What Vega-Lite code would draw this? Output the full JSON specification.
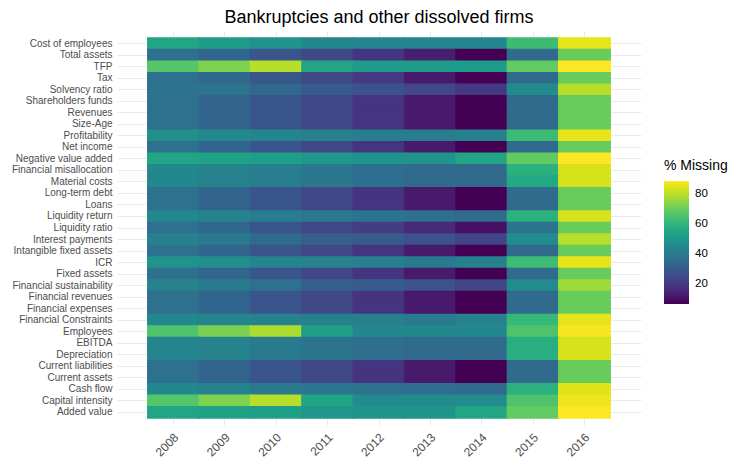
{
  "$schema": "https://vega.github.io/schema/vega-lite/v6.json",
  "autosize": {"type": "none"},
  "padding": {"left": 117, "top": 31, "right": 95, "bottom": 33},
  "width": 524,
  "height": 394,
  "title": {"text": "Bankruptcies and other dissolved firms", "fontSize": 18, "font": "Liberation Sans", "fontWeight": "normal", "color": "#000000", "anchor": "middle", "offset": 4},
  "config": {"view": {"stroke": null}, "font": "Liberation Sans"},
  "data": {"values": [
    {"variable":"Cost of employees","year":"2008","pct":55},{"variable":"Cost of employees","year":"2009","pct":52},{"variable":"Cost of employees","year":"2010","pct":49},{"variable":"Cost of employees","year":"2011","pct":45},{"variable":"Cost of employees","year":"2012","pct":44},{"variable":"Cost of employees","year":"2013","pct":44},{"variable":"Cost of employees","year":"2014","pct":44},{"variable":"Cost of employees","year":"2015","pct":63},{"variable":"Cost of employees","year":"2016","pct":86},
    {"variable":"Total assets","year":"2008","pct":37},{"variable":"Total assets","year":"2009","pct":33},{"variable":"Total assets","year":"2010","pct":28},{"variable":"Total assets","year":"2011","pct":24},{"variable":"Total assets","year":"2012","pct":19},{"variable":"Total assets","year":"2013","pct":13},{"variable":"Total assets","year":"2014","pct":6.5},{"variable":"Total assets","year":"2015","pct":35},{"variable":"Total assets","year":"2016","pct":70},
    {"variable":"TFP","year":"2008","pct":67},{"variable":"TFP","year":"2009","pct":73},{"variable":"TFP","year":"2010","pct":80},{"variable":"TFP","year":"2011","pct":55},{"variable":"TFP","year":"2012","pct":52},{"variable":"TFP","year":"2013","pct":52},{"variable":"TFP","year":"2014","pct":52},{"variable":"TFP","year":"2015","pct":69},{"variable":"TFP","year":"2016","pct":89},
    {"variable":"Tax","year":"2008","pct":37},{"variable":"Tax","year":"2009","pct":34},{"variable":"Tax","year":"2010","pct":29},{"variable":"Tax","year":"2011","pct":24},{"variable":"Tax","year":"2012","pct":20},{"variable":"Tax","year":"2013","pct":12},{"variable":"Tax","year":"2014","pct":7},{"variable":"Tax","year":"2015","pct":35},{"variable":"Tax","year":"2016","pct":70},
    {"variable":"Solvency ratio","year":"2008","pct":38},{"variable":"Solvency ratio","year":"2009","pct":38},{"variable":"Solvency ratio","year":"2010","pct":34},{"variable":"Solvency ratio","year":"2011","pct":30},{"variable":"Solvency ratio","year":"2012","pct":27},{"variable":"Solvency ratio","year":"2013","pct":24},{"variable":"Solvency ratio","year":"2014","pct":20},{"variable":"Solvency ratio","year":"2015","pct":46},{"variable":"Solvency ratio","year":"2016","pct":80},
    {"variable":"Shareholders funds","year":"2008","pct":37},{"variable":"Shareholders funds","year":"2009","pct":33},{"variable":"Shareholders funds","year":"2010","pct":28},{"variable":"Shareholders funds","year":"2011","pct":24},{"variable":"Shareholders funds","year":"2012","pct":19},{"variable":"Shareholders funds","year":"2013","pct":12},{"variable":"Shareholders funds","year":"2014","pct":6.5},{"variable":"Shareholders funds","year":"2015","pct":35},{"variable":"Shareholders funds","year":"2016","pct":70},
    {"variable":"Revenues","year":"2008","pct":37},{"variable":"Revenues","year":"2009","pct":33},{"variable":"Revenues","year":"2010","pct":28},{"variable":"Revenues","year":"2011","pct":24},{"variable":"Revenues","year":"2012","pct":19},{"variable":"Revenues","year":"2013","pct":12},{"variable":"Revenues","year":"2014","pct":6.5},{"variable":"Revenues","year":"2015","pct":35},{"variable":"Revenues","year":"2016","pct":70},
    {"variable":"Size-Age","year":"2008","pct":37},{"variable":"Size-Age","year":"2009","pct":33},{"variable":"Size-Age","year":"2010","pct":28},{"variable":"Size-Age","year":"2011","pct":24},{"variable":"Size-Age","year":"2012","pct":19},{"variable":"Size-Age","year":"2013","pct":12},{"variable":"Size-Age","year":"2014","pct":6.5},{"variable":"Size-Age","year":"2015","pct":35},{"variable":"Size-Age","year":"2016","pct":70},
    {"variable":"Profitability","year":"2008","pct":47},{"variable":"Profitability","year":"2009","pct":45},{"variable":"Profitability","year":"2010","pct":44},{"variable":"Profitability","year":"2011","pct":42},{"variable":"Profitability","year":"2012","pct":41},{"variable":"Profitability","year":"2013","pct":41},{"variable":"Profitability","year":"2014","pct":42},{"variable":"Profitability","year":"2015","pct":63},{"variable":"Profitability","year":"2016","pct":86},
    {"variable":"Net income","year":"2008","pct":37},{"variable":"Net income","year":"2009","pct":33},{"variable":"Net income","year":"2010","pct":28},{"variable":"Net income","year":"2011","pct":24},{"variable":"Net income","year":"2012","pct":19},{"variable":"Net income","year":"2013","pct":12},{"variable":"Net income","year":"2014","pct":6.5},{"variable":"Net income","year":"2015","pct":35},{"variable":"Net income","year":"2016","pct":70},
    {"variable":"Negative value added","year":"2008","pct":55},{"variable":"Negative value added","year":"2009","pct":54},{"variable":"Negative value added","year":"2010","pct":53},{"variable":"Negative value added","year":"2011","pct":50},{"variable":"Negative value added","year":"2012","pct":49},{"variable":"Negative value added","year":"2013","pct":49},{"variable":"Negative value added","year":"2014","pct":55},{"variable":"Negative value added","year":"2015","pct":69},{"variable":"Negative value added","year":"2016","pct":89},
    {"variable":"Financial misallocation","year":"2008","pct":45},{"variable":"Financial misallocation","year":"2009","pct":43},{"variable":"Financial misallocation","year":"2010","pct":41},{"variable":"Financial misallocation","year":"2011","pct":39},{"variable":"Financial misallocation","year":"2012","pct":36},{"variable":"Financial misallocation","year":"2013","pct":35},{"variable":"Financial misallocation","year":"2014","pct":35},{"variable":"Financial misallocation","year":"2015","pct":59},{"variable":"Financial misallocation","year":"2016","pct":84},
    {"variable":"Material costs","year":"2008","pct":45},{"variable":"Material costs","year":"2009","pct":43},{"variable":"Material costs","year":"2010","pct":41},{"variable":"Material costs","year":"2011","pct":39},{"variable":"Material costs","year":"2012","pct":36},{"variable":"Material costs","year":"2013","pct":35},{"variable":"Material costs","year":"2014","pct":35},{"variable":"Material costs","year":"2015","pct":56},{"variable":"Material costs","year":"2016","pct":84},
    {"variable":"Long-term debt","year":"2008","pct":37},{"variable":"Long-term debt","year":"2009","pct":33},{"variable":"Long-term debt","year":"2010","pct":28},{"variable":"Long-term debt","year":"2011","pct":24},{"variable":"Long-term debt","year":"2012","pct":19},{"variable":"Long-term debt","year":"2013","pct":12},{"variable":"Long-term debt","year":"2014","pct":6.5},{"variable":"Long-term debt","year":"2015","pct":35},{"variable":"Long-term debt","year":"2016","pct":70},
    {"variable":"Loans","year":"2008","pct":37},{"variable":"Loans","year":"2009","pct":33},{"variable":"Loans","year":"2010","pct":28},{"variable":"Loans","year":"2011","pct":24},{"variable":"Loans","year":"2012","pct":19},{"variable":"Loans","year":"2013","pct":12},{"variable":"Loans","year":"2014","pct":6.5},{"variable":"Loans","year":"2015","pct":35},{"variable":"Loans","year":"2016","pct":70},
    {"variable":"Liquidity return","year":"2008","pct":45},{"variable":"Liquidity return","year":"2009","pct":43},{"variable":"Liquidity return","year":"2010","pct":41},{"variable":"Liquidity return","year":"2011","pct":39},{"variable":"Liquidity return","year":"2012","pct":38},{"variable":"Liquidity return","year":"2013","pct":36},{"variable":"Liquidity return","year":"2014","pct":35},{"variable":"Liquidity return","year":"2015","pct":59},{"variable":"Liquidity return","year":"2016","pct":84},
    {"variable":"Liquidity ratio","year":"2008","pct":37},{"variable":"Liquidity ratio","year":"2009","pct":34},{"variable":"Liquidity ratio","year":"2010","pct":28},{"variable":"Liquidity ratio","year":"2011","pct":24},{"variable":"Liquidity ratio","year":"2012","pct":21},{"variable":"Liquidity ratio","year":"2013","pct":16},{"variable":"Liquidity ratio","year":"2014","pct":10},{"variable":"Liquidity ratio","year":"2015","pct":38},{"variable":"Liquidity ratio","year":"2016","pct":70},
    {"variable":"Interest payments","year":"2008","pct":42},{"variable":"Interest payments","year":"2009","pct":40},{"variable":"Interest payments","year":"2010","pct":35},{"variable":"Interest payments","year":"2011","pct":31},{"variable":"Interest payments","year":"2012","pct":30},{"variable":"Interest payments","year":"2013","pct":27},{"variable":"Interest payments","year":"2014","pct":23},{"variable":"Interest payments","year":"2015","pct":46},{"variable":"Interest payments","year":"2016","pct":80},
    {"variable":"Intangible fixed assets","year":"2008","pct":37},{"variable":"Intangible fixed assets","year":"2009","pct":33},{"variable":"Intangible fixed assets","year":"2010","pct":28},{"variable":"Intangible fixed assets","year":"2011","pct":24},{"variable":"Intangible fixed assets","year":"2012","pct":19},{"variable":"Intangible fixed assets","year":"2013","pct":12},{"variable":"Intangible fixed assets","year":"2014","pct":6.5},{"variable":"Intangible fixed assets","year":"2015","pct":35},{"variable":"Intangible fixed assets","year":"2016","pct":70},
    {"variable":"ICR","year":"2008","pct":49},{"variable":"ICR","year":"2009","pct":47},{"variable":"ICR","year":"2010","pct":44},{"variable":"ICR","year":"2011","pct":43},{"variable":"ICR","year":"2012","pct":42},{"variable":"ICR","year":"2013","pct":40},{"variable":"ICR","year":"2014","pct":42},{"variable":"ICR","year":"2015","pct":63},{"variable":"ICR","year":"2016","pct":86},
    {"variable":"Fixed assets","year":"2008","pct":37},{"variable":"Fixed assets","year":"2009","pct":33},{"variable":"Fixed assets","year":"2010","pct":28},{"variable":"Fixed assets","year":"2011","pct":24},{"variable":"Fixed assets","year":"2012","pct":19},{"variable":"Fixed assets","year":"2013","pct":12},{"variable":"Fixed assets","year":"2014","pct":6.5},{"variable":"Fixed assets","year":"2015","pct":35},{"variable":"Fixed assets","year":"2016","pct":70},
    {"variable":"Financial sustainability","year":"2008","pct":43},{"variable":"Financial sustainability","year":"2009","pct":40},{"variable":"Financial sustainability","year":"2010","pct":37},{"variable":"Financial sustainability","year":"2011","pct":31},{"variable":"Financial sustainability","year":"2012","pct":30},{"variable":"Financial sustainability","year":"2013","pct":27},{"variable":"Financial sustainability","year":"2014","pct":23},{"variable":"Financial sustainability","year":"2015","pct":46},{"variable":"Financial sustainability","year":"2016","pct":77},
    {"variable":"Financial revenues","year":"2008","pct":37},{"variable":"Financial revenues","year":"2009","pct":33},{"variable":"Financial revenues","year":"2010","pct":28},{"variable":"Financial revenues","year":"2011","pct":24},{"variable":"Financial revenues","year":"2012","pct":19},{"variable":"Financial revenues","year":"2013","pct":12},{"variable":"Financial revenues","year":"2014","pct":6.5},{"variable":"Financial revenues","year":"2015","pct":35},{"variable":"Financial revenues","year":"2016","pct":70},
    {"variable":"Financial expenses","year":"2008","pct":37},{"variable":"Financial expenses","year":"2009","pct":33},{"variable":"Financial expenses","year":"2010","pct":28},{"variable":"Financial expenses","year":"2011","pct":24},{"variable":"Financial expenses","year":"2012","pct":19},{"variable":"Financial expenses","year":"2013","pct":12},{"variable":"Financial expenses","year":"2014","pct":6.5},{"variable":"Financial expenses","year":"2015","pct":35},{"variable":"Financial expenses","year":"2016","pct":70},
    {"variable":"Financial Constraints","year":"2008","pct":45},{"variable":"Financial Constraints","year":"2009","pct":44},{"variable":"Financial Constraints","year":"2010","pct":43},{"variable":"Financial Constraints","year":"2011","pct":42},{"variable":"Financial Constraints","year":"2012","pct":42},{"variable":"Financial Constraints","year":"2013","pct":40},{"variable":"Financial Constraints","year":"2014","pct":43},{"variable":"Financial Constraints","year":"2015","pct":62},{"variable":"Financial Constraints","year":"2016","pct":86},
    {"variable":"Employees","year":"2008","pct":66},{"variable":"Employees","year":"2009","pct":72.5},{"variable":"Employees","year":"2010","pct":79},{"variable":"Employees","year":"2011","pct":53},{"variable":"Employees","year":"2012","pct":45},{"variable":"Employees","year":"2013","pct":45},{"variable":"Employees","year":"2014","pct":45},{"variable":"Employees","year":"2015","pct":66},{"variable":"Employees","year":"2016","pct":88},
    {"variable":"EBITDA","year":"2008","pct":44},{"variable":"EBITDA","year":"2009","pct":43},{"variable":"EBITDA","year":"2010","pct":40},{"variable":"EBITDA","year":"2011","pct":38},{"variable":"EBITDA","year":"2012","pct":36},{"variable":"EBITDA","year":"2013","pct":35},{"variable":"EBITDA","year":"2014","pct":35},{"variable":"EBITDA","year":"2015","pct":58},{"variable":"EBITDA","year":"2016","pct":84},
    {"variable":"Depreciation","year":"2008","pct":44},{"variable":"Depreciation","year":"2009","pct":43},{"variable":"Depreciation","year":"2010","pct":40},{"variable":"Depreciation","year":"2011","pct":38},{"variable":"Depreciation","year":"2012","pct":36},{"variable":"Depreciation","year":"2013","pct":35},{"variable":"Depreciation","year":"2014","pct":35},{"variable":"Depreciation","year":"2015","pct":58},{"variable":"Depreciation","year":"2016","pct":84},
    {"variable":"Current liabilities","year":"2008","pct":37},{"variable":"Current liabilities","year":"2009","pct":33},{"variable":"Current liabilities","year":"2010","pct":28},{"variable":"Current liabilities","year":"2011","pct":24},{"variable":"Current liabilities","year":"2012","pct":19},{"variable":"Current liabilities","year":"2013","pct":12},{"variable":"Current liabilities","year":"2014","pct":6.5},{"variable":"Current liabilities","year":"2015","pct":35},{"variable":"Current liabilities","year":"2016","pct":70},
    {"variable":"Current assets","year":"2008","pct":37},{"variable":"Current assets","year":"2009","pct":33},{"variable":"Current assets","year":"2010","pct":28},{"variable":"Current assets","year":"2011","pct":24},{"variable":"Current assets","year":"2012","pct":19},{"variable":"Current assets","year":"2013","pct":12},{"variable":"Current assets","year":"2014","pct":6.5},{"variable":"Current assets","year":"2015","pct":35},{"variable":"Current assets","year":"2016","pct":70},
    {"variable":"Cash flow","year":"2008","pct":45},{"variable":"Cash flow","year":"2009","pct":43},{"variable":"Cash flow","year":"2010","pct":40},{"variable":"Cash flow","year":"2011","pct":39},{"variable":"Cash flow","year":"2012","pct":37},{"variable":"Cash flow","year":"2013","pct":36},{"variable":"Cash flow","year":"2014","pct":35},{"variable":"Cash flow","year":"2015","pct":59},{"variable":"Cash flow","year":"2016","pct":85},
    {"variable":"Capital intensity","year":"2008","pct":67},{"variable":"Capital intensity","year":"2009","pct":73},{"variable":"Capital intensity","year":"2010","pct":80},{"variable":"Capital intensity","year":"2011","pct":55},{"variable":"Capital intensity","year":"2012","pct":46},{"variable":"Capital intensity","year":"2013","pct":46},{"variable":"Capital intensity","year":"2014","pct":46},{"variable":"Capital intensity","year":"2015","pct":66},{"variable":"Capital intensity","year":"2016","pct":87},
    {"variable":"Added value","year":"2008","pct":55},{"variable":"Added value","year":"2009","pct":54},{"variable":"Added value","year":"2010","pct":53},{"variable":"Added value","year":"2011","pct":50},{"variable":"Added value","year":"2012","pct":49},{"variable":"Added value","year":"2013","pct":49},{"variable":"Added value","year":"2014","pct":55},{"variable":"Added value","year":"2015","pct":69},{"variable":"Added value","year":"2016","pct":89}
  ]},
  "mark": {"type": "rect", "strokeWidth": 0, "width": {"band": 1.03}, "height": {"band": 1.1}},
  "encoding": {
    "x": {
      "field": "year", "type": "ordinal", "title": null,
      "scale": {"paddingInner": 0, "paddingOuter": 0.6},
      "axis": {"labelAngle": -45, "labelAlign": "right", "labelBaseline": "middle", "labelFontSize": 12, "labelColor": "#4d4d4d", "labelPadding": 10, "ticks": false, "domain": false, "grid": true, "gridColor": "#ebebeb", "gridWidth": 1, "bandPosition": 0.5, "labelOffset": 3, "zindex": 0}
    },
    "y": {
      "field": "variable", "type": "nominal", "title": null,
      "sort": ["Cost of employees","Total assets","TFP","Tax","Solvency ratio","Shareholders funds","Revenues","Size-Age","Profitability","Net income","Negative value added","Financial misallocation","Material costs","Long-term debt","Loans","Liquidity return","Liquidity ratio","Interest payments","Intangible fixed assets","ICR","Fixed assets","Financial sustainability","Financial revenues","Financial expenses","Financial Constraints","Employees","EBITDA","Depreciation","Current liabilities","Current assets","Cash flow","Capital intensity","Added value"],
      "scale": {"paddingInner": 0, "paddingOuter": 0.6},
      "axis": {"labelFontSize": 10, "labelColor": "#4d4d4d", "labelPadding": 5, "ticks": false, "domain": false, "grid": true, "gridColor": "#ebebeb", "gridWidth": 1, "bandPosition": 0.5, "zindex": 0}
    },
    "color": {
      "field": "pct", "type": "quantitative", "title": "% Missing",
      "scale": {"scheme": "viridis", "domain": [6.5, 89]},
      "legend": {"type": "gradient", "orient": "none", "legendX": 547, "legendY": 128, "gradientLength": 123, "gradientThickness": 25, "values": [20, 40, 60, 80], "titleFontSize": 14, "titleFontWeight": "normal", "titleColor": "#000000", "titlePadding": 8, "labelFontSize": 11.5, "labelColor": "#000000", "labelOffset": 6, "gradientStrokeWidth": 0}
    }
  }
}
